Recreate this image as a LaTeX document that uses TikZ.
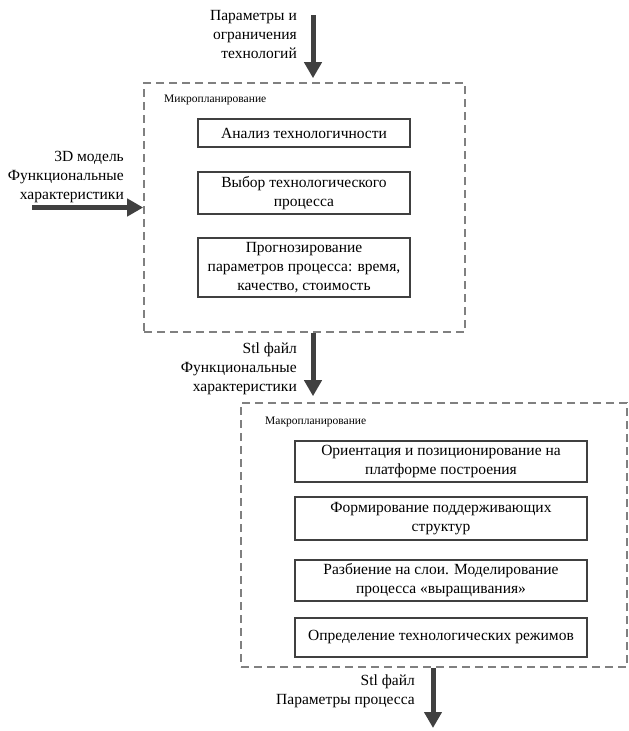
\documentclass[tikz,border=0pt]{standalone}
\usepackage{fontspec}
\setmainfont{Liberation Serif}
\usetikzlibrary{arrows.meta,positioning}

\tikzset{
  stage/.style={draw=black!75, line width=1.8pt, align=center, inner sep=0pt,
    font=\fontsize{15.5}{19}\selectfont},
  frame/.style={draw=black!50, dash pattern=on 8pt off 5pt, line width=1.6pt, inner sep=0pt},
  flow/.style={draw=black!75, line width=5pt, -{Triangle[width=17pt,length=16pt]}},
  note/.style={align=right, anchor=north east, inner sep=0pt, font=\fontsize{15.5}{19}\selectfont},
  tag/.style={anchor=west, inner sep=0pt, font=\fontsize{11.5}{13}\selectfont}
}

\begin{document}
\begin{tikzpicture}[x=1pt, y=-1pt]
      \useasboundingbox (0,0) rectangle (629,731);
      % micro planning
      \node[frame, minimum width=321, minimum height=249] (micro) at (304.5,207.5) {};
      \node[tag] (microtag) at (164,100) {Микропланирование};
      \node[stage, minimum width=212, minimum height=28] (analysis) at (304,133) {Анализ технологичности};
      \node[stage, minimum width=212, minimum height=42] (choice) at (304,193) {Выбор технологического\\процесса};
      \node[stage, minimum width=212, minimum height=59] (forecast) at (304,267.5) {Прогнозирование\\параметров процесса: время,\\качество, стоимость};
      % macro planning
      \node[frame, minimum width=386, minimum height=264] (macro) at (434,535) {};
      \node[tag] (macrotag) at (265,422) {Макропланирование};
      \node[stage, minimum width=292, minimum height=41] (orient) at (441,461.5) {Ориентация и позиционирование на\\платформе построения};
      \node[stage, minimum width=292, minimum height=43] (support) at (441,518.5) {Формирование поддерживающих\\структур};
      \node[stage, minimum width=292, minimum height=41] (slicing) at (441,580.5) {Разбиение на слои. Моделирование\\процесса «выращивания»};
      \node[stage, minimum width=292, minimum height=39] (modes) at (441,637.5) {Определение технологических режимов};
      % inputs and outputs
      \coordinate (topin) at (313,15);
      \coordinate (leftin) at (32,207.5);
      \coordinate (botout) at (433,728);
      \node[note] (params) at (297,10.5) {Параметры и\\ограничения\\технологий};
      \node[note] (model) at (124,151) {3D модель\\Функциональные\\характеристики};
      \node[note] (stl) at (297,343) {Stl файл\\Функциональные\\характеристики};
      \node[note] (result) at (415,675) {Stl файл\\Параметры процесса};
      \draw[flow, shorten >=4pt] (topin) -- (topin |- micro.north);
      \draw[flow] (leftin) -- (micro.west);
      \draw[flow, shorten >=6pt] (micro.south -| topin) -- (macro.north -| topin);
      \draw[flow] (macro.south -| botout) -- (botout);
    \end{tikzpicture}
\end{document}
